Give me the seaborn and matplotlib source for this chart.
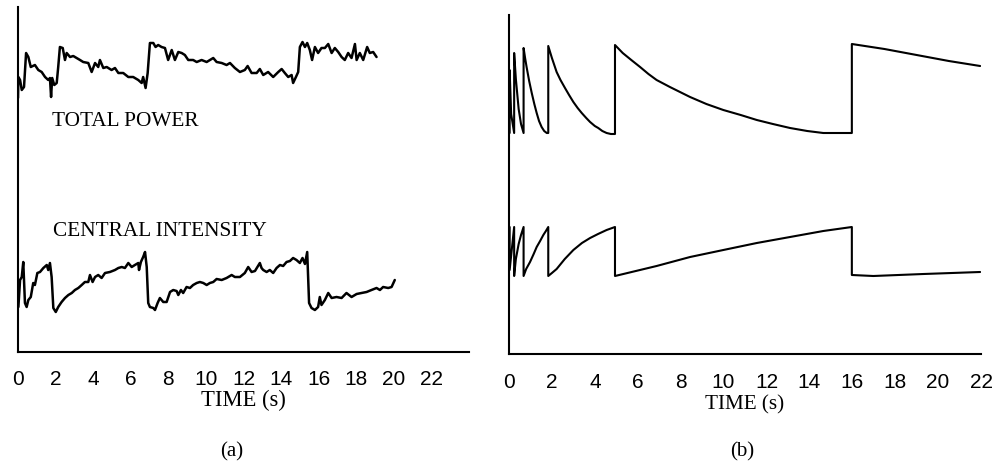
import matplotlib
matplotlib.use("Agg")
import matplotlib.pyplot as plt
import seaborn as sns
import pandas as pd

# ---------------- data (a): measured traces ----------------
tp_t = [0.00, 0.02, 0.11, 0.20, 0.32, 0.43, 0.55, 0.68, 0.90, 1.08, 1.26, 1.44, 1.61, 1.70, 1.76, 1.82, 1.93, 2.06, 2.14, 2.23,
        2.38, 2.50, 2.59, 2.77, 2.94, 3.12, 3.30, 3.47, 3.74, 3.92, 4.10, 4.27, 4.36, 4.54, 4.72, 4.98, 5.16, 5.34, 5.60, 5.87,
        6.13, 6.40, 6.58, 6.66, 6.79, 6.90, 7.02, 7.20, 7.32, 7.46, 7.64, 7.82, 7.99, 8.18, 8.35, 8.53, 8.71, 8.88, 9.06, 9.32,
        9.51, 9.77, 10.04, 10.39, 10.57, 10.84, 11.10, 11.28, 11.54, 11.81, 12.07, 12.22, 12.43, 12.70, 12.87, 13.05, 13.31, 13.58, 13.85, 14.03,
        14.20, 14.38, 14.56, 14.64, 14.79, 14.91, 15.00, 15.14, 15.27, 15.39, 15.53, 15.65, 15.80, 15.97, 16.15, 16.33, 16.51, 16.69, 16.86, 17.04,
        17.22, 17.39, 17.57, 17.75, 17.93, 18.02, 18.19, 18.37, 18.58, 18.72, 18.90, 19.08]
tp_v = [254, 275, 272, 262, 265, 299, 295, 285, 287, 282, 280, 275, 272, 274, 255, 274, 267, 269, 285, 305,
        304, 292, 299, 295, 296, 294, 292, 290, 289, 280, 289, 285, 292, 284, 285, 282, 284, 279, 279, 275,
        275, 272, 269, 275, 264, 279, 309, 309, 305, 307, 305, 304, 292, 302, 292, 300, 299, 297, 292, 292,
        290, 292, 290, 294, 290, 289, 287, 289, 284, 280, 282, 286, 279, 279, 283, 277, 280, 275, 280, 283,
        279, 275, 277, 269, 275, 280, 305, 310, 305, 309, 302, 292, 305, 299, 304, 304, 308, 299, 304, 300,
        295, 292, 299, 294, 308, 292, 299, 292, 305, 299, 300, 295]

ci_t = [0.02, 0.11, 0.20, 0.28, 0.37, 0.46, 0.55, 0.68, 0.81, 0.90, 1.03, 1.17, 1.35, 1.53, 1.61, 1.70, 1.79, 1.88, 2.01, 2.14,
        2.32, 2.50, 2.68, 2.86, 3.03, 3.21, 3.39, 3.56, 3.74, 3.83, 3.97, 4.10, 4.27, 4.45, 4.63, 4.89, 5.16, 5.34, 5.52, 5.69,
        5.87, 6.05, 6.22, 6.40, 6.44, 6.54, 6.66, 6.76, 6.85, 6.93, 7.02, 7.20, 7.29, 7.43, 7.55, 7.73, 7.91, 8.09, 8.26, 8.44,
        8.53, 8.67, 8.79, 8.97, 9.15, 9.32, 9.51, 9.68, 9.86, 10.04, 10.21, 10.39, 10.57, 10.84, 11.10, 11.37, 11.54, 11.81, 12.07, 12.25,
        12.43, 12.61, 12.87, 12.96, 13.05, 13.23, 13.40, 13.58, 13.76, 13.94, 14.11, 14.29, 14.47, 14.64, 14.82, 15.00, 15.14, 15.27, 15.39, 15.49,
        15.62, 15.80, 15.97, 16.06, 16.15, 16.33, 16.51, 16.69, 16.95, 17.22, 17.48, 17.75, 18.02, 18.28, 18.55, 18.81, 19.08, 19.26, 19.43, 19.70,
        19.88, 20.05]
ci_v = [45, 72, 75, 90, 49, 45, 52, 55, 69, 67, 79, 80, 84, 87, 82, 89, 75, 44, 40, 45,
        50, 54, 57, 59, 62, 64, 67, 70, 70, 77, 70, 75, 77, 74, 79, 80, 82, 84, 85, 84,
        89, 85, 87, 89, 82, 90, 95, 100, 85, 49, 45, 44, 42, 49, 54, 50, 50, 60, 62, 61,
        57, 62, 59, 65, 64, 67, 69, 70, 69, 67, 69, 70, 73, 72, 74, 77, 75, 75, 79, 85,
        80, 81, 89, 84, 82, 80, 82, 79, 84, 87, 86, 90, 91, 94, 92, 89, 94, 88, 100, 49,
        44, 42, 45, 55, 47, 52, 59, 54, 55, 54, 59, 55, 58, 59, 60, 62, 64, 62, 65, 64,
        65, 72]

# ---------------- data (b): model traces ----------------
rp_t = [0.03, 0.03, 0.10, 0.24, 0.24, 0.32, 0.45, 0.56, 0.68, 0.68, 0.75, 0.82, 0.94, 1.06, 1.18, 1.29, 1.40, 1.52, 1.64, 1.76,
        1.83, 1.83, 2.00, 2.22, 2.40, 2.61, 2.80, 3.00, 3.20, 3.39, 3.60, 3.78, 4.00, 4.16, 4.35, 4.55, 4.75, 4.94, 4.94, 5.30,
        5.70, 6.11, 6.50, 6.88, 7.50, 8.44, 9.20, 9.99, 10.80, 11.55, 12.30, 13.10, 13.90, 14.65, 15.30, 15.98, 15.98, 17.50, 19.00, 20.50,
        21.96]
rp_v = [221, 284, 240, 221, 301, 275, 245, 230, 221, 306, 296, 287, 273, 261, 250, 241, 233, 227, 223, 221,
        221, 308, 296, 282, 274, 266, 259, 252, 246, 241, 236, 232, 228, 226, 223, 221, 220, 220, 309, 301,
        294, 287, 280, 274, 267, 257, 250, 244, 239, 234, 230, 226, 223, 221, 221, 221, 310, 305, 299, 293,
        288]

rb_t = [0.03, 0.03, 0.24, 0.24, 0.32, 0.45, 0.56, 0.68, 0.68, 0.80, 0.98, 1.15, 1.29, 1.45, 1.60, 1.72, 1.83, 1.83, 2.00, 2.22,
        2.60, 3.00, 3.40, 3.78, 4.15, 4.55, 4.94, 4.94, 5.33, 6.88, 8.44, 9.99, 11.55, 13.10, 14.65, 15.98, 15.98, 16.98, 19.32, 21.96]
rb_v = [127, 84, 127, 78, 95, 110, 119, 127, 78, 85, 92, 100, 107, 113, 119, 123, 127, 78, 81, 85,
        95, 104, 111, 116, 120, 124, 127, 78, 80, 88, 97, 104, 111, 117, 123, 127, 79, 78, 80, 82]

xticks_a = list(range(0, 23, 2))
xticks_b = list(range(0, 23, 2))

sns.set_style("white")
SANS = ["Liberation Sans", "DejaVu Sans"]
SERIF = ["Liberation Serif", "DejaVu Serif"]
plt.rcParams["font.family"] = SANS
plt.rcParams["text.color"] = "black"
plt.rcParams["xtick.color"] = "black"

fig = plt.figure(figsize=(9.93, 4.66), dpi=100)
W, H = 993, 466
axL = fig.add_axes([18 / W, 1 - 352 / H, 451 / W, 345 / H])
axR = fig.add_axes([509 / W, 1 - 354 / H, 472 / W, 339 / H])

for t, v in [(tp_t, tp_v), (ci_t, ci_v)]:
    sns.lineplot(data=pd.DataFrame({"t": t, "v": v}), x="t", y="v", ax=axL,
                 sort=False, estimator=None, color="black", lw=1.8)
for t, v in [(rp_t, rp_v), (rb_t, rb_v)]:
    sns.lineplot(data=pd.DataFrame({"t": t, "v": v}), x="t", y="v", ax=axR,
                 sort=False, estimator=None, color="black", lw=1.5)

axL.set_xlim(0, 24)
axL.set_ylim(0, 345)
axR.set_xlim(0, 22)
axR.set_ylim(0, 339)

for ax in (axL, axR):
    ax.set_xlabel("")
    ax.set_ylabel("")
    ax.set_yticks([])
    for s in ("top", "right"):
        ax.spines[s].set_visible(False)
    for s in ("left", "bottom"):
        ax.spines[s].set_color("black")
        ax.spines[s].set_linewidth(1.5)

axL.set_xticks(xticks_a)
axL.set_xticklabels([str(x) for x in xticks_a])
axL.tick_params(axis="x", direction="in", length=5, width=1, pad=13, labelsize=15, colors="black")
axR.set_xticks(xticks_b)
axR.set_xticklabels([str(x) for x in xticks_b])
axR.tick_params(axis="x", direction="in", length=1.5, width=0.8, pad=14, labelsize=15, colors="black")

axL.text(1.81, 231, "TOTAL POWER", fontsize=15.3, family=SERIF, va="center", ha="left", color="black")
axL.text(1.86, 121, "CENTRAL INTENSITY", fontsize=15.3, family=SERIF, va="center", ha="left", color="black")

fig.text(243.5 / W, 1 - 400 / H, "TIME (s)", fontsize=16.3, family=SERIF, ha="center", va="center", color="black")
fig.text(745 / W, 1 - 405 / H, "TIME (s)", fontsize=15.2, family=SERIF, ha="center", va="center", color="black")
fig.text(232 / W, 1 - 452 / H, "(a)", fontsize=15, family=SERIF, ha="center", va="center", color="black")
fig.text(742 / W, 1 - 452 / H, "(b)", fontsize=15, family=SERIF, ha="center", va="center", color="black")

fig.savefig("out.png", dpi=100)
